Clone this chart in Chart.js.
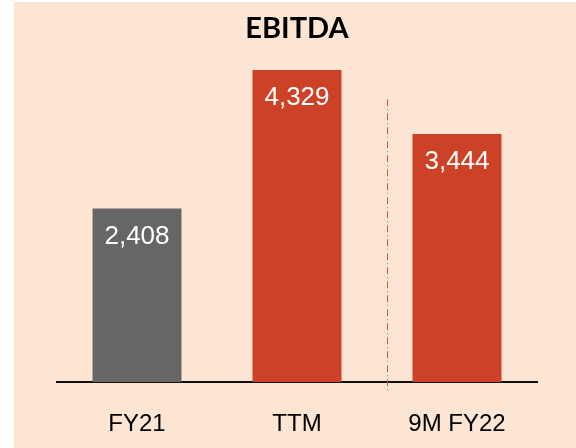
<!DOCTYPE html>
<html>
<head>
<meta charset="utf-8">
<script src="https://cdn.jsdelivr.net/npm/chart.js@4/dist/chart.umd.min.js"></script>
<style>
  html, body { margin: 0; padding: 0; background: #ffffff; }
  #wrap { position: absolute; left: 14px; top: 2px; width: 562px; height: 446px; background: #FDE5D4; }
  canvas { display: block; }
</style>
</head>
<body>
<div id="wrap"><canvas id="c" width="562" height="446"></canvas></div>
<script>
const categories = ["FY21", "TTM", "9M FY22"];
const ebitdaValues = [2408, 4329, 3444];
const valueLabels = ["2,408", "4,329", "3,444"];
const barColors = ["#666666", "#CD4126", "#CD4126"];
const chartTitle = "EBITDA";
// divider between TTM and 9M FY22 (category-index position, value range)
const dividerIndex = [1.5625];
const dividerRange = [-140, 3925];

const labelPlugin = {
  id: 'valueLabels',
  afterDatasetsDraw(chart) {
    const ctx = chart.ctx;
    const meta = chart.getDatasetMeta(0);
    ctx.save();
    ctx.fillStyle = '#ffffff';
    ctx.font = '26px "Liberation Sans", Arial, sans-serif';
    ctx.textAlign = 'center';
    ctx.textBaseline = 'middle';
    meta.data.forEach((bar, i) => {
      ctx.fillText(valueLabels[i], bar.x, bar.y + 28);
    });
    ctx.restore();
  }
};

const dividerPlugin = {
  id: 'divider',
  afterDraw(chart) {
    const ctx = chart.ctx;
    const x = chart.scales.x.getPixelForValue(dividerIndex[0]);
    const y1 = chart.scales.y.getPixelForValue(dividerRange[1]);
    const y2 = chart.scales.y.getPixelForValue(dividerRange[0]);
    ctx.save();
    ctx.strokeStyle = '#D4553C';
    ctx.lineWidth = 1;
    ctx.setLineDash([7, 3, 1, 3]);
    ctx.beginPath();
    ctx.moveTo(Math.round(x) + 0.5, y1);
    ctx.lineTo(Math.round(x) + 0.5, y2);
    ctx.stroke();
    ctx.restore();
  }
};

new Chart(document.getElementById('c'), {
  type: 'bar',
  data: {
    labels: categories,
    datasets: [{
      data: ebitdaValues,
      backgroundColor: barColors,
      borderWidth: 0,
      barPercentage: 0.556,
      categoryPercentage: 1.0
    }]
  },
  options: {
    responsive: false,
    animation: false,
    layout: { padding: { left: 43, right: 39, top: 9, bottom: 0 } },
    plugins: {
      legend: { display: false },
      tooltip: { enabled: false },
      title: {
        display: true,
        text: chartTitle,
        color: '#000000',
        font: { family: 'Lato, "Open Sans", sans-serif', size: 29, weight: 'bold' },
        padding: { top: 0, bottom: 12 }
      }
    },
    scales: {
      x: {
        grid: { display: false, drawTicks: false },
        border: { display: true, color: '#111111', width: 2 },
        ticks: {
          color: '#000000',
          font: { family: '"Liberation Sans", Arial, sans-serif', size: 24 },
          padding: 28
        },
        afterFit(scale) { scale.height = 66; }
      },
      y: {
        display: false,
        min: 0,
        max: 4500
      }
    }
  },
  plugins: [labelPlugin, dividerPlugin]
});
</script>
</body>
</html>
